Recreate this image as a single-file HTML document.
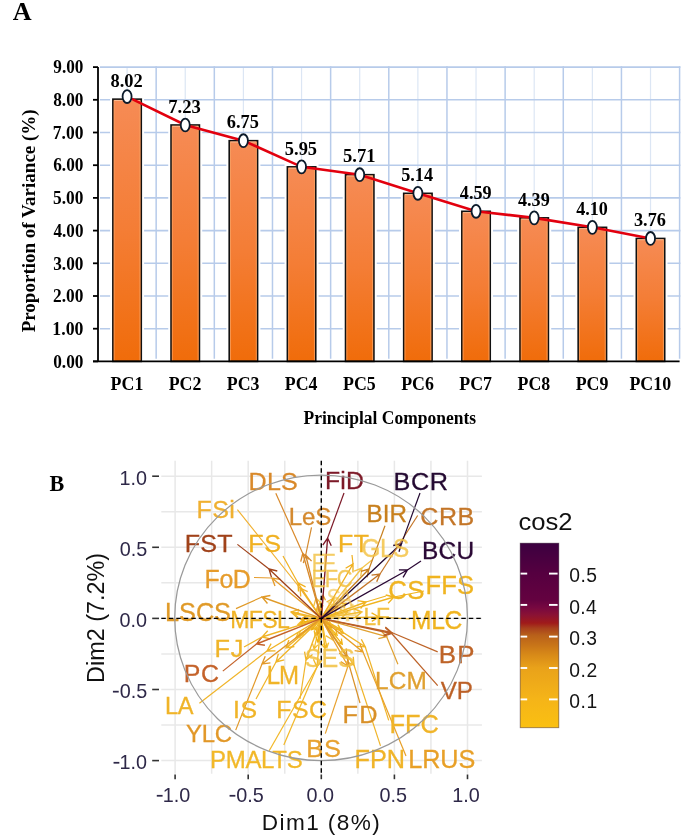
<!DOCTYPE html><html><head><meta charset="utf-8"><style>html,body{margin:0;padding:0;background:#fff;}svg{display:block;filter:blur(0.4px);}</style></head><body><svg width="685" height="840" viewBox="0 0 685 840">
<defs>
<linearGradient id="bar" x1="0" y1="0" x2="0" y2="1">
<stop offset="0" stop-color="#F68B55"/><stop offset="0.5" stop-color="#F47D35"/><stop offset="1" stop-color="#F06C0A"/>
</linearGradient>
<linearGradient id="leg" x1="0" y1="1" x2="0" y2="0">
<stop offset="0" stop-color="#FAC012"/>
<stop offset="0.156" stop-color="#F5B418"/>
<stop offset="0.324" stop-color="#E9A21A"/>
<stop offset="0.394" stop-color="#D88A18"/>
<stop offset="0.448" stop-color="#C87418"/>
<stop offset="0.502" stop-color="#B8601A"/>
<stop offset="0.54" stop-color="#A8401C"/>
<stop offset="0.567" stop-color="#A01A1A"/>
<stop offset="0.611" stop-color="#8A1234"/>
<stop offset="0.649" stop-color="#780840"/>
<stop offset="0.692" stop-color="#640240"/>
<stop offset="0.833" stop-color="#560040"/>
<stop offset="1" stop-color="#3C0040"/>
</linearGradient>
</defs>
<rect width="685" height="840" fill="#fff"/>
<line x1="127.08" y1="67.1" x2="127.08" y2="358.79999999999995" stroke="#DCE6F4" stroke-width="1.2"/>
<line x1="185.24" y1="67.1" x2="185.24" y2="358.79999999999995" stroke="#DCE6F4" stroke-width="1.2"/>
<line x1="243.40" y1="67.1" x2="243.40" y2="358.79999999999995" stroke="#DCE6F4" stroke-width="1.2"/>
<line x1="301.56" y1="67.1" x2="301.56" y2="358.79999999999995" stroke="#DCE6F4" stroke-width="1.2"/>
<line x1="359.72" y1="67.1" x2="359.72" y2="358.79999999999995" stroke="#DCE6F4" stroke-width="1.2"/>
<line x1="417.88" y1="67.1" x2="417.88" y2="358.79999999999995" stroke="#DCE6F4" stroke-width="1.2"/>
<line x1="476.04" y1="67.1" x2="476.04" y2="358.79999999999995" stroke="#DCE6F4" stroke-width="1.2"/>
<line x1="534.20" y1="67.1" x2="534.20" y2="358.79999999999995" stroke="#DCE6F4" stroke-width="1.2"/>
<line x1="592.36" y1="67.1" x2="592.36" y2="358.79999999999995" stroke="#DCE6F4" stroke-width="1.2"/>
<line x1="650.52" y1="67.1" x2="650.52" y2="358.79999999999995" stroke="#DCE6F4" stroke-width="1.2"/>
<line x1="156.16" y1="66.3" x2="156.16" y2="358.79999999999995" stroke="#B7CBEA" stroke-width="1.5"/>
<line x1="214.32" y1="66.3" x2="214.32" y2="358.79999999999995" stroke="#B7CBEA" stroke-width="1.5"/>
<line x1="272.48" y1="66.3" x2="272.48" y2="358.79999999999995" stroke="#B7CBEA" stroke-width="1.5"/>
<line x1="330.64" y1="66.3" x2="330.64" y2="358.79999999999995" stroke="#B7CBEA" stroke-width="1.5"/>
<line x1="388.80" y1="66.3" x2="388.80" y2="358.79999999999995" stroke="#B7CBEA" stroke-width="1.5"/>
<line x1="446.96" y1="66.3" x2="446.96" y2="358.79999999999995" stroke="#B7CBEA" stroke-width="1.5"/>
<line x1="505.12" y1="66.3" x2="505.12" y2="358.79999999999995" stroke="#B7CBEA" stroke-width="1.5"/>
<line x1="563.28" y1="66.3" x2="563.28" y2="358.79999999999995" stroke="#B7CBEA" stroke-width="1.5"/>
<line x1="621.44" y1="66.3" x2="621.44" y2="358.79999999999995" stroke="#B7CBEA" stroke-width="1.5"/>
<line x1="679.60" y1="66.3" x2="679.60" y2="358.79999999999995" stroke="#B7CBEA" stroke-width="1.5"/>
<line x1="100.0" y1="328.70" x2="680.4" y2="328.70" stroke="#B7CBEA" stroke-width="1.6"/>
<line x1="100.0" y1="296.00" x2="680.4" y2="296.00" stroke="#B7CBEA" stroke-width="1.6"/>
<line x1="100.0" y1="263.30" x2="680.4" y2="263.30" stroke="#B7CBEA" stroke-width="1.6"/>
<line x1="100.0" y1="230.60" x2="680.4" y2="230.60" stroke="#B7CBEA" stroke-width="1.6"/>
<line x1="100.0" y1="197.90" x2="680.4" y2="197.90" stroke="#B7CBEA" stroke-width="1.6"/>
<line x1="100.0" y1="165.20" x2="680.4" y2="165.20" stroke="#B7CBEA" stroke-width="1.6"/>
<line x1="100.0" y1="132.50" x2="680.4" y2="132.50" stroke="#B7CBEA" stroke-width="1.6"/>
<line x1="100.0" y1="99.80" x2="680.4" y2="99.80" stroke="#B7CBEA" stroke-width="1.6"/>
<line x1="100.0" y1="67.10" x2="680.4" y2="67.10" stroke="#B7CBEA" stroke-width="1.6"/>
<rect x="112.88" y="99.15" width="28.4" height="262.25" fill="#fff" stroke="#fff" stroke-width="5.6"/>
<rect x="171.04" y="124.98" width="28.4" height="236.42" fill="#fff" stroke="#fff" stroke-width="5.6"/>
<rect x="229.20" y="140.68" width="28.4" height="220.72" fill="#fff" stroke="#fff" stroke-width="5.6"/>
<rect x="287.36" y="166.84" width="28.4" height="194.56" fill="#fff" stroke="#fff" stroke-width="5.6"/>
<rect x="345.52" y="174.68" width="28.4" height="186.72" fill="#fff" stroke="#fff" stroke-width="5.6"/>
<rect x="403.68" y="193.32" width="28.4" height="168.08" fill="#fff" stroke="#fff" stroke-width="5.6"/>
<rect x="461.84" y="211.31" width="28.4" height="150.09" fill="#fff" stroke="#fff" stroke-width="5.6"/>
<rect x="520.00" y="217.85" width="28.4" height="143.55" fill="#fff" stroke="#fff" stroke-width="5.6"/>
<rect x="578.16" y="227.33" width="28.4" height="134.07" fill="#fff" stroke="#fff" stroke-width="5.6"/>
<rect x="636.32" y="238.45" width="28.4" height="122.95" fill="#fff" stroke="#fff" stroke-width="5.6"/>
<rect x="112.88" y="99.15" width="28.4" height="262.25" fill="url(#bar)" stroke="#111" stroke-width="1.6"/>
<line x1="114.08" y1="100.45" x2="140.08" y2="100.45" stroke="#F9C39C" stroke-width="0.9"/>
<line x1="114.18" y1="100.65" x2="114.18" y2="360.40" stroke="#F8A466" stroke-width="1" opacity="0.7"/>
<line x1="139.98" y1="100.65" x2="139.98" y2="360.40" stroke="#F8A466" stroke-width="1" opacity="0.8"/>
<rect x="171.04" y="124.98" width="28.4" height="236.42" fill="url(#bar)" stroke="#111" stroke-width="1.6"/>
<line x1="172.24" y1="126.28" x2="198.24" y2="126.28" stroke="#F9C39C" stroke-width="0.9"/>
<line x1="172.34" y1="126.48" x2="172.34" y2="360.40" stroke="#F8A466" stroke-width="1" opacity="0.7"/>
<line x1="198.14" y1="126.48" x2="198.14" y2="360.40" stroke="#F8A466" stroke-width="1" opacity="0.8"/>
<rect x="229.20" y="140.68" width="28.4" height="220.72" fill="url(#bar)" stroke="#111" stroke-width="1.6"/>
<line x1="230.40" y1="141.98" x2="256.40" y2="141.98" stroke="#F9C39C" stroke-width="0.9"/>
<line x1="230.50" y1="142.18" x2="230.50" y2="360.40" stroke="#F8A466" stroke-width="1" opacity="0.7"/>
<line x1="256.30" y1="142.18" x2="256.30" y2="360.40" stroke="#F8A466" stroke-width="1" opacity="0.8"/>
<rect x="287.36" y="166.84" width="28.4" height="194.56" fill="url(#bar)" stroke="#111" stroke-width="1.6"/>
<line x1="288.56" y1="168.14" x2="314.56" y2="168.14" stroke="#F9C39C" stroke-width="0.9"/>
<line x1="288.66" y1="168.34" x2="288.66" y2="360.40" stroke="#F8A466" stroke-width="1" opacity="0.7"/>
<line x1="314.46" y1="168.34" x2="314.46" y2="360.40" stroke="#F8A466" stroke-width="1" opacity="0.8"/>
<rect x="345.52" y="174.68" width="28.4" height="186.72" fill="url(#bar)" stroke="#111" stroke-width="1.6"/>
<line x1="346.72" y1="175.98" x2="372.72" y2="175.98" stroke="#F9C39C" stroke-width="0.9"/>
<line x1="346.82" y1="176.18" x2="346.82" y2="360.40" stroke="#F8A466" stroke-width="1" opacity="0.7"/>
<line x1="372.62" y1="176.18" x2="372.62" y2="360.40" stroke="#F8A466" stroke-width="1" opacity="0.8"/>
<rect x="403.68" y="193.32" width="28.4" height="168.08" fill="url(#bar)" stroke="#111" stroke-width="1.6"/>
<line x1="404.88" y1="194.62" x2="430.88" y2="194.62" stroke="#F9C39C" stroke-width="0.9"/>
<line x1="404.98" y1="194.82" x2="404.98" y2="360.40" stroke="#F8A466" stroke-width="1" opacity="0.7"/>
<line x1="430.78" y1="194.82" x2="430.78" y2="360.40" stroke="#F8A466" stroke-width="1" opacity="0.8"/>
<rect x="461.84" y="211.31" width="28.4" height="150.09" fill="url(#bar)" stroke="#111" stroke-width="1.6"/>
<line x1="463.04" y1="212.61" x2="489.04" y2="212.61" stroke="#F9C39C" stroke-width="0.9"/>
<line x1="463.14" y1="212.81" x2="463.14" y2="360.40" stroke="#F8A466" stroke-width="1" opacity="0.7"/>
<line x1="488.94" y1="212.81" x2="488.94" y2="360.40" stroke="#F8A466" stroke-width="1" opacity="0.8"/>
<rect x="520.00" y="217.85" width="28.4" height="143.55" fill="url(#bar)" stroke="#111" stroke-width="1.6"/>
<line x1="521.20" y1="219.15" x2="547.20" y2="219.15" stroke="#F9C39C" stroke-width="0.9"/>
<line x1="521.30" y1="219.35" x2="521.30" y2="360.40" stroke="#F8A466" stroke-width="1" opacity="0.7"/>
<line x1="547.10" y1="219.35" x2="547.10" y2="360.40" stroke="#F8A466" stroke-width="1" opacity="0.8"/>
<rect x="578.16" y="227.33" width="28.4" height="134.07" fill="url(#bar)" stroke="#111" stroke-width="1.6"/>
<line x1="579.36" y1="228.63" x2="605.36" y2="228.63" stroke="#F9C39C" stroke-width="0.9"/>
<line x1="579.46" y1="228.83" x2="579.46" y2="360.40" stroke="#F8A466" stroke-width="1" opacity="0.7"/>
<line x1="605.26" y1="228.83" x2="605.26" y2="360.40" stroke="#F8A466" stroke-width="1" opacity="0.8"/>
<rect x="636.32" y="238.45" width="28.4" height="122.95" fill="url(#bar)" stroke="#111" stroke-width="1.6"/>
<line x1="637.52" y1="239.75" x2="663.52" y2="239.75" stroke="#F9C39C" stroke-width="0.9"/>
<line x1="637.62" y1="239.95" x2="637.62" y2="360.40" stroke="#F8A466" stroke-width="1" opacity="0.7"/>
<line x1="663.42" y1="239.95" x2="663.42" y2="360.40" stroke="#F8A466" stroke-width="1" opacity="0.8"/>
<line x1="98.0" y1="67.1" x2="98.0" y2="361.4" stroke="#000" stroke-width="1.8"/>
<line x1="93" y1="361.4" x2="679.6" y2="361.4" stroke="#000" stroke-width="1.6"/>
<line x1="93" y1="361.40" x2="98.0" y2="361.40" stroke="#000" stroke-width="1.8"/>
<line x1="93" y1="328.70" x2="98.0" y2="328.70" stroke="#000" stroke-width="1.8"/>
<line x1="93" y1="296.00" x2="98.0" y2="296.00" stroke="#000" stroke-width="1.8"/>
<line x1="93" y1="263.30" x2="98.0" y2="263.30" stroke="#000" stroke-width="1.8"/>
<line x1="93" y1="230.60" x2="98.0" y2="230.60" stroke="#000" stroke-width="1.8"/>
<line x1="93" y1="197.90" x2="98.0" y2="197.90" stroke="#000" stroke-width="1.8"/>
<line x1="93" y1="165.20" x2="98.0" y2="165.20" stroke="#000" stroke-width="1.8"/>
<line x1="93" y1="132.50" x2="98.0" y2="132.50" stroke="#000" stroke-width="1.8"/>
<line x1="93" y1="99.80" x2="98.0" y2="99.80" stroke="#000" stroke-width="1.8"/>
<line x1="93" y1="67.10" x2="98.0" y2="67.10" stroke="#000" stroke-width="1.8"/>
<polyline points="127.08,96.55 185.24,124.98 243.40,140.68 301.56,166.84 359.72,174.68 417.88,193.32 476.04,211.31 534.20,217.85 592.36,227.33 650.52,238.45" fill="none" stroke="#E2000E" stroke-width="2.6"/>
<ellipse cx="127.08" cy="96.55" rx="4.5" ry="6.45" fill="#fff" stroke="#0B1A2A" stroke-width="1.8"/>
<ellipse cx="185.24" cy="124.98" rx="4.5" ry="6.45" fill="#fff" stroke="#0B1A2A" stroke-width="1.8"/>
<ellipse cx="243.40" cy="140.68" rx="4.5" ry="6.45" fill="#fff" stroke="#0B1A2A" stroke-width="1.8"/>
<ellipse cx="301.56" cy="166.84" rx="4.5" ry="6.45" fill="#fff" stroke="#0B1A2A" stroke-width="1.8"/>
<ellipse cx="359.72" cy="174.68" rx="4.5" ry="6.45" fill="#fff" stroke="#0B1A2A" stroke-width="1.8"/>
<ellipse cx="417.88" cy="193.32" rx="4.5" ry="6.45" fill="#fff" stroke="#0B1A2A" stroke-width="1.8"/>
<ellipse cx="476.04" cy="211.31" rx="4.5" ry="6.45" fill="#fff" stroke="#0B1A2A" stroke-width="1.8"/>
<ellipse cx="534.20" cy="217.85" rx="4.5" ry="6.45" fill="#fff" stroke="#0B1A2A" stroke-width="1.8"/>
<ellipse cx="592.36" cy="227.33" rx="4.5" ry="6.45" fill="#fff" stroke="#0B1A2A" stroke-width="1.8"/>
<ellipse cx="650.52" cy="238.45" rx="4.5" ry="6.45" fill="#fff" stroke="#0B1A2A" stroke-width="1.8"/>
<text x="110.48" y="86.95" font-family='"Liberation Serif", serif' font-weight="bold" font-size="17.8" textLength="32.26" lengthAdjust="spacingAndGlyphs" fill="#000" >8.02</text>
<text x="168.24" y="112.78" font-family='"Liberation Serif", serif' font-weight="bold" font-size="17.8" textLength="32.54" lengthAdjust="spacingAndGlyphs" fill="#000" >7.23</text>
<text x="226.80" y="128.48" font-family='"Liberation Serif", serif' font-weight="bold" font-size="17.8" textLength="32.13" lengthAdjust="spacingAndGlyphs" fill="#000" >6.75</text>
<text x="284.83" y="154.64" font-family='"Liberation Serif", serif' font-weight="bold" font-size="17.8" textLength="32.26" lengthAdjust="spacingAndGlyphs" fill="#000" >5.95</text>
<text x="342.98" y="162.48" font-family='"Liberation Serif", serif' font-weight="bold" font-size="17.8" textLength="32.54" lengthAdjust="spacingAndGlyphs" fill="#000" >5.71</text>
<text x="401.16" y="181.12" font-family='"Liberation Serif", serif' font-weight="bold" font-size="17.8" textLength="31.99" lengthAdjust="spacingAndGlyphs" fill="#000" >5.14</text>
<text x="459.83" y="199.11" font-family='"Liberation Serif", serif' font-weight="bold" font-size="17.8" textLength="31.73" lengthAdjust="spacingAndGlyphs" fill="#000" >4.59</text>
<text x="517.99" y="205.65" font-family='"Liberation Serif", serif' font-weight="bold" font-size="17.8" textLength="31.73" lengthAdjust="spacingAndGlyphs" fill="#000" >4.39</text>
<text x="576.15" y="215.13" font-family='"Liberation Serif", serif' font-weight="bold" font-size="17.8" textLength="31.73" lengthAdjust="spacingAndGlyphs" fill="#000" >4.10</text>
<text x="633.93" y="226.25" font-family='"Liberation Serif", serif' font-weight="bold" font-size="17.8" textLength="31.99" lengthAdjust="spacingAndGlyphs" fill="#000" >3.76</text>
<text x="53.21" y="367.60" font-family='"Liberation Serif", serif' font-weight="bold" font-size="18.3" textLength="30.22" lengthAdjust="spacingAndGlyphs" fill="#000" >0.00</text>
<text x="52.34" y="334.90" font-family='"Liberation Serif", serif' font-weight="bold" font-size="18.3" textLength="31.11" lengthAdjust="spacingAndGlyphs" fill="#000" >1.00</text>
<text x="53.09" y="302.20" font-family='"Liberation Serif", serif' font-weight="bold" font-size="18.3" textLength="30.35" lengthAdjust="spacingAndGlyphs" fill="#000" >2.00</text>
<text x="53.21" y="269.50" font-family='"Liberation Serif", serif' font-weight="bold" font-size="18.3" textLength="30.22" lengthAdjust="spacingAndGlyphs" fill="#000" >3.00</text>
<text x="53.57" y="236.80" font-family='"Liberation Serif", serif' font-weight="bold" font-size="18.3" textLength="29.86" lengthAdjust="spacingAndGlyphs" fill="#000" >4.00</text>
<text x="53.09" y="204.10" font-family='"Liberation Serif", serif' font-weight="bold" font-size="18.3" textLength="30.35" lengthAdjust="spacingAndGlyphs" fill="#000" >5.00</text>
<text x="53.21" y="171.40" font-family='"Liberation Serif", serif' font-weight="bold" font-size="18.3" textLength="30.22" lengthAdjust="spacingAndGlyphs" fill="#000" >6.00</text>
<text x="52.84" y="138.70" font-family='"Liberation Serif", serif' font-weight="bold" font-size="18.3" textLength="30.60" lengthAdjust="spacingAndGlyphs" fill="#000" >7.00</text>
<text x="53.21" y="106.00" font-family='"Liberation Serif", serif' font-weight="bold" font-size="18.3" textLength="30.22" lengthAdjust="spacingAndGlyphs" fill="#000" >8.00</text>
<text x="53.33" y="73.30" font-family='"Liberation Serif", serif' font-weight="bold" font-size="18.3" textLength="30.10" lengthAdjust="spacingAndGlyphs" fill="#000" >9.00</text>
<text x="110.60" y="389.70" font-family='"Liberation Serif", serif' font-weight="bold" font-size="18.5" textLength="32.72" lengthAdjust="spacingAndGlyphs" fill="#000" >PC1</text>
<text x="168.64" y="389.70" font-family='"Liberation Serif", serif' font-weight="bold" font-size="18.5" textLength="32.72" lengthAdjust="spacingAndGlyphs" fill="#000" >PC2</text>
<text x="226.74" y="389.70" font-family='"Liberation Serif", serif' font-weight="bold" font-size="18.5" textLength="32.72" lengthAdjust="spacingAndGlyphs" fill="#000" >PC3</text>
<text x="284.78" y="389.70" font-family='"Liberation Serif", serif' font-weight="bold" font-size="18.5" textLength="32.72" lengthAdjust="spacingAndGlyphs" fill="#000" >PC4</text>
<text x="343.06" y="389.70" font-family='"Liberation Serif", serif' font-weight="bold" font-size="18.5" textLength="32.72" lengthAdjust="spacingAndGlyphs" fill="#000" >PC5</text>
<text x="401.16" y="389.70" font-family='"Liberation Serif", serif' font-weight="bold" font-size="18.5" textLength="32.72" lengthAdjust="spacingAndGlyphs" fill="#000" >PC6</text>
<text x="459.32" y="389.70" font-family='"Liberation Serif", serif' font-weight="bold" font-size="18.5" textLength="32.72" lengthAdjust="spacingAndGlyphs" fill="#000" >PC7</text>
<text x="517.54" y="389.70" font-family='"Liberation Serif", serif' font-weight="bold" font-size="18.5" textLength="32.72" lengthAdjust="spacingAndGlyphs" fill="#000" >PC8</text>
<text x="575.70" y="389.70" font-family='"Liberation Serif", serif' font-weight="bold" font-size="18.5" textLength="32.72" lengthAdjust="spacingAndGlyphs" fill="#000" >PC9</text>
<text x="629.45" y="389.70" font-family='"Liberation Serif", serif' font-weight="bold" font-size="18.5" textLength="41.65" lengthAdjust="spacingAndGlyphs" fill="#000" >PC10</text>
<text x="303.56" y="423.60" font-family='"Liberation Serif", serif' font-weight="bold" font-size="18.2" textLength="172.50" lengthAdjust="spacingAndGlyphs" fill="#000" >Principlal Components</text>
<text transform="translate(35.20,332.10) rotate(-90)" x="-0.26" y="0" font-family='"Liberation Serif", serif' font-weight="bold" font-size="18.5" textLength="223.04" lengthAdjust="spacingAndGlyphs" fill="#000">Proportion of Variance (%)</text>
<text x="12.84" y="19.80" font-family='"Liberation Serif", serif' font-weight="bold" font-size="25" textLength="18.85" lengthAdjust="spacingAndGlyphs" fill="#000" >A</text>
<line x1="175.10" y1="460.8" x2="175.10" y2="773.8" stroke="#E8E8E8" stroke-width="1.5"/>
<line x1="161.3" y1="760.60" x2="481.9" y2="760.60" stroke="#E8E8E8" stroke-width="1.5"/>
<line x1="211.65" y1="460.8" x2="211.65" y2="773.8" stroke="#E8E8E8" stroke-width="1.5"/>
<line x1="161.3" y1="725.05" x2="481.9" y2="725.05" stroke="#E8E8E8" stroke-width="1.5"/>
<line x1="248.20" y1="460.8" x2="248.20" y2="773.8" stroke="#E8E8E8" stroke-width="1.5"/>
<line x1="161.3" y1="689.50" x2="481.9" y2="689.50" stroke="#E8E8E8" stroke-width="1.5"/>
<line x1="284.75" y1="460.8" x2="284.75" y2="773.8" stroke="#E8E8E8" stroke-width="1.5"/>
<line x1="161.3" y1="653.95" x2="481.9" y2="653.95" stroke="#E8E8E8" stroke-width="1.5"/>
<line x1="321.30" y1="460.8" x2="321.30" y2="773.8" stroke="#E8E8E8" stroke-width="1.5"/>
<line x1="161.3" y1="618.40" x2="481.9" y2="618.40" stroke="#E8E8E8" stroke-width="1.5"/>
<line x1="357.85" y1="460.8" x2="357.85" y2="773.8" stroke="#E8E8E8" stroke-width="1.5"/>
<line x1="161.3" y1="582.85" x2="481.9" y2="582.85" stroke="#E8E8E8" stroke-width="1.5"/>
<line x1="394.40" y1="460.8" x2="394.40" y2="773.8" stroke="#E8E8E8" stroke-width="1.5"/>
<line x1="161.3" y1="547.30" x2="481.9" y2="547.30" stroke="#E8E8E8" stroke-width="1.5"/>
<line x1="430.95" y1="460.8" x2="430.95" y2="773.8" stroke="#E8E8E8" stroke-width="1.5"/>
<line x1="161.3" y1="511.75" x2="481.9" y2="511.75" stroke="#E8E8E8" stroke-width="1.5"/>
<line x1="467.50" y1="460.8" x2="467.50" y2="773.8" stroke="#E8E8E8" stroke-width="1.5"/>
<line x1="161.3" y1="476.20" x2="481.9" y2="476.20" stroke="#E8E8E8" stroke-width="1.5"/>
<text x="49.55" y="491.10" font-family='"Liberation Serif", serif' font-weight="bold" font-size="23.5" textLength="14.79" lengthAdjust="spacingAndGlyphs" fill="#000" >B</text>
<path d="M321.3,618.4L323.11,595.21M320.00,599.75L323.11,595.21L325.48,600.18" fill="none" stroke="#E8A420" stroke-width="1.3"/>
<path d="M321.3,618.4L340.67,629.36M337.88,624.62L340.67,629.36L335.17,629.41" fill="none" stroke="#F2B820" stroke-width="1.3"/>
<path d="M321.3,618.4L296.09,637.51M301.55,636.83L296.09,637.51L298.23,632.44" fill="none" stroke="#F5BE30" stroke-width="1.3"/>
<path d="M321.3,618.4L320.29,601.79M317.84,606.71L320.29,601.79L323.33,606.38" fill="none" stroke="#F5BE30" stroke-width="1.3"/>
<path d="M321.3,618.4L298.00,624.35M303.30,625.84L298.00,624.35L301.94,620.51" fill="none" stroke="#F5BE30" stroke-width="1.3"/>
<path d="M321.3,618.4L311.47,629.79M316.66,627.98L311.47,629.79L312.50,624.39" fill="none" stroke="#F0B010" stroke-width="1.3"/>
<path d="M321.3,618.4L337.18,635.21M335.91,629.86L337.18,635.21L331.91,633.64" fill="none" stroke="#F2B820" stroke-width="1.3"/>
<path d="M321.3,618.4L314.94,629.85M319.66,627.02L314.94,629.85L314.85,624.35" fill="none" stroke="#F2B820" stroke-width="1.3"/>
<path d="M321.3,618.4L317.29,606.73M316.23,612.13L317.29,606.73L321.44,610.34" fill="none" stroke="#E8A420" stroke-width="1.3"/>
<path d="M321.3,618.4L293.89,613.80M298.14,617.30L293.89,613.80L299.05,611.88" fill="none" stroke="#F5BE30" stroke-width="1.3"/>
<path d="M321.3,618.4L314.09,648.90M317.86,644.90L314.09,648.90L312.51,643.64" fill="none" stroke="#F5BE30" stroke-width="1.3"/>
<path d="M321.3,618.4L317.92,642.13M321.31,637.80L317.92,642.13L315.87,637.02" fill="none" stroke="#F0B010" stroke-width="1.3"/>
<path d="M321.3,618.4L331.54,627.86M329.91,622.61L331.54,627.86L326.18,626.65" fill="none" stroke="#F0B010" stroke-width="1.3"/>
<path d="M321.3,618.4L303.63,617.85M308.31,620.75L303.63,617.85L308.48,615.25" fill="none" stroke="#F5BE30" stroke-width="1.3"/>
<path d="M321.3,618.4L326.88,647.80M328.69,642.60L326.88,647.80L323.29,643.63" fill="none" stroke="#F5BE30" stroke-width="1.3"/>
<path d="M321.3,618.4L300.83,619.30M305.71,621.84L300.83,619.30L305.47,616.35" fill="none" stroke="#E8A420" stroke-width="1.3"/>
<path d="M321.3,618.4L300.81,622.72M306.04,624.43L300.81,622.72L304.91,619.05" fill="none" stroke="#F0B010" stroke-width="1.3"/>
<path d="M321.3,618.4L343.56,633.23M341.12,628.30L343.56,633.23L338.07,632.88" fill="none" stroke="#F2B820" stroke-width="1.3"/>
<path d="M321.3,618.4L342.25,644.13M341.38,638.70L342.25,644.13L337.11,642.17" fill="none" stroke="#F0B010" stroke-width="1.3"/>
<path d="M321.3,618.4L315.21,636.04M319.37,632.44L315.21,636.04L314.17,630.64" fill="none" stroke="#F2B820" stroke-width="1.3"/>
<path d="M321.3,618.4L317.55,634.13M321.33,630.13L317.55,634.13L315.98,628.86" fill="none" stroke="#E8A420" stroke-width="1.3"/>
<path d="M321.3,618.4L318.38,605.72M316.77,610.98L318.38,605.72L322.13,609.74" fill="none" stroke="#F5BE30" stroke-width="1.3"/>
<path d="M321.3,618.4L346.45,603.24M340.95,603.34L346.45,603.24L343.79,608.05" fill="none" stroke="#F5BE30" stroke-width="1.3"/>
<path d="M321.3,618.4L331.23,625.67M329.01,620.64L331.23,625.67L325.76,625.08" fill="none" stroke="#F5BE30" stroke-width="1.3"/>
<path d="M321.3,618.4L324.98,648.45M327.13,643.39L324.98,648.45L321.67,644.06" fill="none" stroke="#F2B820" stroke-width="1.3"/>
<path d="M321.3,618.4L298.58,635.49M304.04,634.83L298.58,635.49L300.73,630.43" fill="none" stroke="#F5BE30" stroke-width="1.3"/>
<path d="M321.3,618.4L362.00,568.00M354.07,571.06L362.00,568.00L360.68,576.40" fill="none" stroke="#F4C448" stroke-width="1.35"/>
<path d="M321.3,618.4L316.00,598.00M313.74,606.19L316.00,598.00L321.96,604.06" fill="none" stroke="#F2C040" stroke-width="1.35"/>
<path d="M321.3,618.4L334.00,598.00M326.50,602.00L334.00,598.00L333.72,606.50" fill="none" stroke="#F2C040" stroke-width="1.35"/>
<path d="M321.3,618.4L338.00,606.00M329.56,606.98L338.00,606.00L334.62,613.80" fill="none" stroke="#F2C040" stroke-width="1.35"/>
<path d="M321.3,618.4L348.00,612.00M339.85,609.58L348.00,612.00L341.83,617.85" fill="none" stroke="#F2C040" stroke-width="1.35"/>
<path d="M321.3,618.4L333.00,640.00M333.23,631.50L333.00,640.00L325.76,635.55" fill="none" stroke="#F2C040" stroke-width="1.35"/>
<path d="M321.3,618.4L362.00,612.00M354.07,608.95L362.00,612.00L355.39,617.34" fill="none" stroke="#F2BC30" stroke-width="1.35"/>
<path d="M321.3,618.4L317.00,667.00M321.88,660.04L317.00,667.00L313.42,659.29" fill="none" stroke="#F2B828" stroke-width="1.35"/>
<path d="M321.3,618.4L291.00,612.00M297.32,617.68L291.00,612.00L299.08,609.36" fill="none" stroke="#F0B428" stroke-width="1.35"/>
<path d="M321.3,618.4L262.00,637.00M270.30,638.85L262.00,637.00L267.75,630.74" fill="none" stroke="#F0B428" stroke-width="1.35"/>
<path d="M321.3,618.4L286.00,648.00M294.37,646.53L286.00,648.00L288.91,640.01" fill="none" stroke="#F0B428" stroke-width="1.35"/>
<path d="M321.3,618.4L267.00,651.00M275.50,650.85L267.00,651.00L271.12,643.57" fill="none" stroke="#F0B428" stroke-width="1.35"/>
<path d="M321.3,618.4L276.00,662.00M284.25,659.96L276.00,662.00L278.36,653.83" fill="none" stroke="#F0B428" stroke-width="1.35"/>
<path d="M321.3,618.4L306.00,660.00M312.53,654.56L306.00,660.00L304.55,651.62" fill="none" stroke="#F0B428" stroke-width="1.35"/>
<path d="M321.3,618.4L365.20,646.80M361.33,639.23L365.20,646.80L356.71,646.37" fill="none" stroke="#F0B428" stroke-width="1.35"/>
<path d="M321.3,618.4L354.00,665.20M353.27,656.73L354.00,665.20L346.30,661.60" fill="none" stroke="#F0B428" stroke-width="1.35"/>
<path d="M321.3,618.4L366.00,602.00M357.63,600.55L366.00,602.00L360.55,608.53" fill="none" stroke="#F0B420" stroke-width="1.35"/>
<path d="M321.3,618.4L394.00,597.00M385.74,595.00L394.00,597.00L388.14,603.16" fill="none" stroke="#F0B420" stroke-width="1.35"/>
<path d="M321.3,618.4L379.00,617.00M371.54,612.93L379.00,617.00L371.74,621.43" fill="none" stroke="#F0B420" stroke-width="1.35"/>
<path d="M321.3,618.4L300.00,588.00M300.74,596.47L300.00,588.00L307.70,591.59" fill="none" stroke="#F0B030" stroke-width="1.35"/>
<path d="M321.3,618.4L298.00,583.00M298.50,591.49L298.00,583.00L305.60,586.81" fill="none" stroke="#F0B020" stroke-width="1.35"/>
<path d="M321.3,618.4L353.00,564.00M345.62,568.22L353.00,564.00L352.97,572.50" fill="none" stroke="#F0B020" stroke-width="1.35"/>
<path d="M321.3,618.4L348.00,666.00M348.11,657.50L348.00,666.00L340.69,661.66" fill="none" stroke="#E8A230" stroke-width="1.35"/>
<path d="M321.3,618.4L363.00,652.00M359.93,644.07L363.00,652.00L354.60,650.69" fill="none" stroke="#E8A028" stroke-width="1.35"/>
<path d="M321.3,618.4L386.60,636.60M380.65,630.53L386.60,636.60L378.37,638.72" fill="none" stroke="#E0A030" stroke-width="1.35"/>
<path d="M321.3,618.4L272.00,578.00M275.00,585.95L272.00,578.00L280.39,579.38" fill="none" stroke="#E69C2C" stroke-width="1.35"/>
<path d="M321.3,618.4L262.00,597.00M267.48,603.50L262.00,597.00L270.37,595.50" fill="none" stroke="#E09A28" stroke-width="1.35"/>
<path d="M321.3,618.4L262.00,664.00M270.43,662.88L262.00,664.00L265.24,656.14" fill="none" stroke="#E29828" stroke-width="1.35"/>
<path d="M321.3,618.4L346.80,657.00M346.29,648.52L346.80,657.00L339.20,653.20" fill="none" stroke="#D89028" stroke-width="1.35"/>
<path d="M321.3,618.4L302.80,553.40M300.73,561.64L302.80,553.40L308.90,559.32" fill="none" stroke="#D9892A" stroke-width="1.35"/>
<path d="M321.3,618.4L305.70,555.00M303.33,563.16L305.70,555.00L311.59,561.13" fill="none" stroke="#D4892E" stroke-width="1.35"/>
<path d="M321.3,618.4L369.00,569.00M360.83,571.34L369.00,569.00L366.94,577.25" fill="none" stroke="#C8801E" stroke-width="1.35"/>
<path d="M321.3,618.4L380.00,574.00M371.57,575.05L380.00,574.00L376.69,581.83" fill="none" stroke="#C47628" stroke-width="1.35"/>
<path d="M321.3,618.4L256.50,644.00M264.91,645.25L256.50,644.00L261.78,637.34" fill="none" stroke="#C4622A" stroke-width="1.35"/>
<path d="M321.3,618.4L391.70,632.50M385.32,626.89L391.70,632.50L383.65,635.22" fill="none" stroke="#BE6428" stroke-width="1.35"/>
<path d="M321.3,618.4L391.70,633.50M385.39,627.80L391.70,633.50L383.61,636.11" fill="none" stroke="#BC6026" stroke-width="1.35"/>
<path d="M321.3,618.4L269.00,569.00M271.43,577.14L269.00,569.00L277.27,570.97" fill="none" stroke="#A0421A" stroke-width="1.35"/>
<path d="M321.3,618.4L327.60,538.00M322.79,545.01L327.60,538.00L331.26,545.67" fill="none" stroke="#7D1A28" stroke-width="1.35"/>
<path d="M321.3,618.4L407.40,570.00M398.90,569.90L407.40,570.00L403.07,577.31" fill="none" stroke="#2A0835" stroke-width="1.35"/>
<path d="M321.3,618.4L401.50,543.60M393.22,545.51L401.50,543.60L399.02,551.73" fill="none" stroke="#240A32" stroke-width="1.35"/>
<line x1="362.00" y1="568.00" x2="372.00" y2="560.00" stroke="#F4C448" stroke-width="1.2"/>
<line x1="317.00" y1="667.00" x2="269.20" y2="750.80" stroke="#F2B828" stroke-width="1.2"/>
<line x1="262.00" y1="637.00" x2="244.00" y2="647.00" stroke="#F0B428" stroke-width="1.2"/>
<line x1="267.00" y1="651.00" x2="199.40" y2="703.20" stroke="#F0B428" stroke-width="1.2"/>
<line x1="276.00" y1="662.00" x2="256.00" y2="699.00" stroke="#F0B428" stroke-width="1.2"/>
<line x1="306.00" y1="660.00" x2="300.00" y2="699.00" stroke="#F0B428" stroke-width="1.2"/>
<line x1="365.20" y1="646.80" x2="388.70" y2="720.40" stroke="#F0B428" stroke-width="1.2"/>
<line x1="354.00" y1="665.20" x2="380.50" y2="745.90" stroke="#F0B428" stroke-width="1.2"/>
<line x1="366.00" y1="602.00" x2="386.00" y2="596.00" stroke="#F0B420" stroke-width="1.2"/>
<line x1="394.00" y1="597.00" x2="424.00" y2="591.00" stroke="#F0B420" stroke-width="1.2"/>
<line x1="379.00" y1="617.00" x2="410.00" y2="619.00" stroke="#F0B420" stroke-width="1.2"/>
<line x1="300.00" y1="588.00" x2="237.40" y2="509.60" stroke="#F0B030" stroke-width="1.2"/>
<line x1="298.00" y1="583.00" x2="283.00" y2="556.00" stroke="#F0B020" stroke-width="1.2"/>
<line x1="353.00" y1="564.00" x2="352.00" y2="555.00" stroke="#F0B020" stroke-width="1.2"/>
<line x1="348.00" y1="666.00" x2="325.30" y2="733.60" stroke="#E8A230" stroke-width="1.2"/>
<line x1="363.00" y1="652.00" x2="406.00" y2="756.10" stroke="#E8A028" stroke-width="1.2"/>
<line x1="386.60" y1="636.60" x2="397.90" y2="664.20" stroke="#E0A030" stroke-width="1.2"/>
<line x1="272.00" y1="578.00" x2="254.00" y2="577.50" stroke="#E69C2C" stroke-width="1.2"/>
<line x1="262.00" y1="597.00" x2="236.00" y2="608.60" stroke="#E09A28" stroke-width="1.2"/>
<line x1="262.00" y1="664.00" x2="235.70" y2="730.10" stroke="#E29828" stroke-width="1.2"/>
<line x1="346.80" y1="657.00" x2="360.00" y2="703.00" stroke="#D89028" stroke-width="1.2"/>
<line x1="302.80" y1="553.40" x2="275.80" y2="493.30" stroke="#D9892A" stroke-width="1.2"/>
<line x1="305.70" y1="555.00" x2="311.50" y2="527.40" stroke="#D4892E" stroke-width="1.2"/>
<line x1="369.00" y1="569.00" x2="385.00" y2="525.70" stroke="#C8801E" stroke-width="1.2"/>
<line x1="380.00" y1="574.00" x2="417.70" y2="515.50" stroke="#C47628" stroke-width="1.2"/>
<line x1="256.50" y1="644.00" x2="222.80" y2="671.10" stroke="#C4622A" stroke-width="1.2"/>
<line x1="391.70" y1="632.50" x2="437.70" y2="651.90" stroke="#BE6428" stroke-width="1.2"/>
<line x1="391.70" y1="633.50" x2="437.70" y2="685.60" stroke="#BC6026" stroke-width="1.2"/>
<line x1="269.00" y1="569.00" x2="237.40" y2="544.40" stroke="#A0421A" stroke-width="1.2"/>
<line x1="327.60" y1="538.00" x2="344.00" y2="493.00" stroke="#7D1A28" stroke-width="1.2"/>
<line x1="407.40" y1="570.00" x2="421.00" y2="561.00" stroke="#2A0835" stroke-width="1.2"/>
<line x1="401.50" y1="543.60" x2="420.00" y2="493.00" stroke="#240A32" stroke-width="1.2"/>
<line x1="317" y1="667" x2="283.8" y2="745" stroke="#F2B828" stroke-width="1.2"/>
<text transform="translate(250.60,489.90) scale(1.0147,1)" x="-2.00" y="0" font-family='"Liberation Sans", sans-serif' font-weight="normal" font-size="24.71" letter-spacing="0.217" fill="#D9892A" stroke="#D9892A" stroke-width="0.3" opacity="1.0">DLS</text>
<text transform="translate(327.00,489.20) scale(1.0204,1)" x="-2.00" y="0" font-family='"Liberation Sans", sans-serif' font-weight="normal" font-size="24.29" letter-spacing="0.230" fill="#7D1A28" stroke="#7D1A28" stroke-width="0.3" opacity="1.0">FiD</text>
<text transform="translate(395.50,489.60) scale(1.0400,1)" x="-2.00" y="0" font-family='"Liberation Sans", sans-serif' font-weight="normal" font-size="24.29" letter-spacing="0.615" fill="#240A32" stroke="#240A32" stroke-width="0.3" opacity="1.0">BCR</text>
<text transform="translate(198.60,518.40) scale(1.0321,1)" x="-2.00" y="0" font-family='"Liberation Sans", sans-serif' font-weight="normal" font-size="24.29" letter-spacing="0.339" fill="#F0B030" stroke="#F0B030" stroke-width="0.3" opacity="1.0">FSi</text>
<text transform="translate(290.80,525.00) scale(0.9907,1)" x="-2.00" y="0" font-family='"Liberation Sans", sans-serif' font-weight="normal" font-size="24.29" letter-spacing="-0.126" fill="#D4892E" stroke="#D4892E" stroke-width="0.3" opacity="1.0">LeS</text>
<text transform="translate(368.60,522.00) scale(1.0049,1)" x="-2.00" y="0" font-family='"Liberation Sans", sans-serif' font-weight="normal" font-size="24.14" letter-spacing="0.060" fill="#C8801E" stroke="#C8801E" stroke-width="0.3" opacity="1.0">BIR</text>
<text transform="translate(421.60,525.20) scale(1.0305,1)" x="-1.25" y="0" font-family='"Liberation Sans", sans-serif' font-weight="normal" font-size="24.29" letter-spacing="0.480" fill="#C47628" stroke="#C47628" stroke-width="0.3" opacity="1.0">CRB</text>
<text transform="translate(186.70,552.30) scale(1.0183,1)" x="-2.00" y="0" font-family='"Liberation Sans", sans-serif' font-weight="normal" font-size="24.71" letter-spacing="0.265" fill="#A0421A" stroke="#A0421A" stroke-width="0.3" opacity="1.0">FST</text>
<text transform="translate(250.30,552.00) scale(1.0343,1)" x="-2.00" y="0" font-family='"Liberation Sans", sans-serif' font-weight="normal" font-size="24.29" letter-spacing="0.619" fill="#F0B020" stroke="#F0B020" stroke-width="0.3" opacity="1.0">FS</text>
<text transform="translate(340.10,552.00) scale(1.0282,1)" x="-2.00" y="0" font-family='"Liberation Sans", sans-serif' font-weight="normal" font-size="24.29" letter-spacing="0.496" fill="#F0B020" stroke="#F0B020" stroke-width="0.3" opacity="1.0">FT</text>
<text transform="translate(362.70,557.00) scale(0.9690,1)" x="-1.25" y="0" font-family='"Liberation Sans", sans-serif' font-weight="normal" font-size="25.14" letter-spacing="-0.511" fill="#F4C448" stroke="#F4C448" stroke-width="0.3" opacity="0.85">GLS</text>
<text transform="translate(424.00,558.50) scale(1.0150,1)" x="-2.00" y="0" font-family='"Liberation Sans", sans-serif' font-weight="normal" font-size="24.14" letter-spacing="0.232" fill="#2A0835" stroke="#2A0835" stroke-width="0.3" opacity="1.0">BCU</text>
<text transform="translate(206.60,588.30) scale(0.9747,1)" x="-2.12" y="0" font-family='"Liberation Sans", sans-serif' font-weight="normal" font-size="25.57" letter-spacing="-0.390" fill="#E69C2C" stroke="#E69C2C" stroke-width="0.3" opacity="1.0">FoD</text>
<text transform="translate(313.40,571.00) scale(0.8777,1)" x="-2.00" y="0" font-family='"Liberation Sans", sans-serif' font-weight="normal" font-size="24.14" letter-spacing="-2.461" fill="#F2C040" stroke="#F2C040" stroke-width="0.3" opacity="0.8">FF</text>
<text transform="translate(313.40,586.60) scale(0.9080,1)" x="-2.00" y="0" font-family='"Liberation Sans", sans-serif' font-weight="normal" font-size="24.0" letter-spacing="-1.520" fill="#F2C040" stroke="#F2C040" stroke-width="0.3" opacity="0.85">EFC</text>
<text transform="translate(389.40,598.50) scale(1.0211,1)" x="-1.25" y="0" font-family='"Liberation Sans", sans-serif' font-weight="normal" font-size="25.29" letter-spacing="0.451" fill="#F0B420" stroke="#F0B420" stroke-width="0.3" opacity="1.0">CS</text>
<text transform="translate(427.60,594.30) scale(1.0104,1)" x="-2.00" y="0" font-family='"Liberation Sans", sans-serif' font-weight="normal" font-size="25.29" letter-spacing="0.153" fill="#F0B420" stroke="#F0B420" stroke-width="0.3" opacity="1.0">FFS</text>
<text transform="translate(167.00,621.00) scale(0.9993,1)" x="-2.00" y="0" font-family='"Liberation Sans", sans-serif' font-weight="normal" font-size="25.29" letter-spacing="-0.010" fill="#E09A28" stroke="#E09A28" stroke-width="0.3" opacity="1.0">LSCS</text>
<text transform="translate(232.10,627.80) scale(0.9516,1)" x="-2.00" y="0" font-family='"Liberation Sans", sans-serif' font-weight="normal" font-size="24.29" letter-spacing="-0.701" fill="#F0B428" stroke="#F0B428" stroke-width="0.3" opacity="1.0">MFSL</text>
<text transform="translate(327.40,606.00) scale(0.8762,1)" x="-1.12" y="0" font-family='"Liberation Sans", sans-serif' font-weight="normal" font-size="24.57" letter-spacing="-2.979" fill="#F2C040" stroke="#F2C040" stroke-width="0.3" opacity="0.6">SA</text>
<text transform="translate(336.40,621.00) scale(0.8312,1)" x="-0.00" y="0" font-family='"Liberation Sans", sans-serif' font-weight="normal" font-size="23.14" letter-spacing="-4.163" fill="#F2C040" stroke="#F2C040" stroke-width="0.3" opacity="0.55">AA</text>
<text transform="translate(365.40,624.70) scale(0.9814,1)" x="-1.88" y="0" font-family='"Liberation Sans", sans-serif' font-weight="normal" font-size="23.29" letter-spacing="-0.306" fill="#F2BC30" stroke="#F2BC30" stroke-width="0.3" opacity="0.9">LF</text>
<text transform="translate(413.00,629.30) scale(0.9753,1)" x="-2.00" y="0" font-family='"Liberation Sans", sans-serif' font-weight="normal" font-size="25.29" letter-spacing="-0.426" fill="#F0B420" stroke="#F0B420" stroke-width="0.3" opacity="1.0">MLC</text>
<text transform="translate(216.60,656.50) scale(1.0426,1)" x="-2.00" y="0" font-family='"Liberation Sans", sans-serif' font-weight="normal" font-size="24.29" letter-spacing="0.633" fill="#F0B428" stroke="#F0B428" stroke-width="0.3" opacity="1.0">FJ</text>
<text transform="translate(440.80,662.80) scale(1.0662,1)" x="-2.00" y="0" font-family='"Liberation Sans", sans-serif' font-weight="normal" font-size="24.29" letter-spacing="1.201" fill="#BE6428" stroke="#BE6428" stroke-width="0.3" opacity="1.0">BP</text>
<text transform="translate(305.90,666.70) scale(0.9919,1)" x="-1.12" y="0" font-family='"Liberation Sans", sans-serif' font-weight="normal" font-size="25.29" letter-spacing="-0.131" fill="#F2C040" stroke="#F2C040" stroke-width="0.3" opacity="0.85">SES</text>
<text transform="translate(185.90,682.00) scale(1.0328,1)" x="-2.00" y="0" font-family='"Liberation Sans", sans-serif' font-weight="normal" font-size="24.14" letter-spacing="0.649" fill="#C4622A" stroke="#C4622A" stroke-width="0.3" opacity="1.0">PC</text>
<text transform="translate(268.60,684.00) scale(0.9516,1)" x="-2.00" y="0" font-family='"Liberation Sans", sans-serif' font-weight="normal" font-size="25.29" letter-spacing="-1.051" fill="#F0B428" stroke="#F0B428" stroke-width="0.3" opacity="1.0">LM</text>
<text transform="translate(377.10,688.60) scale(1.0044,1)" x="-2.00" y="0" font-family='"Liberation Sans", sans-serif' font-weight="normal" font-size="24.29" letter-spacing="0.070" fill="#E0A030" stroke="#E0A030" stroke-width="0.3" opacity="1.0">LCM</text>
<text transform="translate(440.80,698.60) scale(0.9966,1)" x="-0.12" y="0" font-family='"Liberation Sans", sans-serif' font-weight="normal" font-size="24.29" letter-spacing="-0.070" fill="#BC6026" stroke="#BC6026" stroke-width="0.3" opacity="1.0">VP</text>
<text transform="translate(167.00,714.20) scale(0.9712,1)" x="-2.00" y="0" font-family='"Liberation Sans", sans-serif' font-weight="normal" font-size="24.29" letter-spacing="-0.546" fill="#F0B428" stroke="#F0B428" stroke-width="0.3" opacity="1.0">LA</text>
<text transform="translate(235.40,717.70) scale(1.0308,1)" x="-2.25" y="0" font-family='"Liberation Sans", sans-serif' font-weight="normal" font-size="24.14" letter-spacing="0.388" fill="#F0B428" stroke="#F0B428" stroke-width="0.3" opacity="1.0">IS</text>
<text transform="translate(278.40,718.00) scale(1.0247,1)" x="-2.00" y="0" font-family='"Liberation Sans", sans-serif' font-weight="normal" font-size="24.29" letter-spacing="0.366" fill="#F0B428" stroke="#F0B428" stroke-width="0.3" opacity="1.0">FSC</text>
<text transform="translate(344.60,722.70) scale(1.0686,1)" x="-1.88" y="0" font-family='"Liberation Sans", sans-serif' font-weight="normal" font-size="23.71" letter-spacing="1.226" fill="#D89028" stroke="#D89028" stroke-width="0.3" opacity="1.0">FD</text>
<text transform="translate(391.70,732.60) scale(0.9981,1)" x="-2.12" y="0" font-family='"Liberation Sans", sans-serif' font-weight="normal" font-size="25.43" letter-spacing="-0.030" fill="#F0B428" stroke="#F0B428" stroke-width="0.3" opacity="1.0">FFC</text>
<text transform="translate(186.50,741.80) scale(0.9849,1)" x="-0.50" y="0" font-family='"Liberation Sans", sans-serif' font-weight="normal" font-size="24.29" letter-spacing="-0.234" fill="#E29828" stroke="#E29828" stroke-width="0.3" opacity="1.0">YLC</text>
<text transform="translate(308.30,757.40) scale(1.0462,1)" x="-2.00" y="0" font-family='"Liberation Sans", sans-serif' font-weight="normal" font-size="24.29" letter-spacing="0.860" fill="#E8A230" stroke="#E8A230" stroke-width="0.3" opacity="1.0">BS</text>
<text transform="translate(212.00,768.00) scale(0.9763,1)" x="-2.00" y="0" font-family='"Liberation Sans", sans-serif' font-weight="normal" font-size="24.57" letter-spacing="-0.303" fill="#F2B828" stroke="#F2B828" stroke-width="0.3" opacity="1.0">PMALTS</text>
<text transform="translate(356.70,767.60) scale(0.9948,1)" x="-2.12" y="0" font-family='"Liberation Sans", sans-serif' font-weight="normal" font-size="25.43" letter-spacing="-0.080" fill="#F0B428" stroke="#F0B428" stroke-width="0.3" opacity="1.0">FPN</text>
<text transform="translate(410.40,767.60) scale(0.9918,1)" x="-2.12" y="0" font-family='"Liberation Sans", sans-serif' font-weight="normal" font-size="25.43" letter-spacing="-0.118" fill="#E8A028" stroke="#E8A028" stroke-width="0.3" opacity="1.0">LRUS</text>
<ellipse cx="321.1" cy="617.8" rx="146.39999999999998" ry="142.79999999999998" fill="none" stroke="#9A9A9A" stroke-width="1.25"/>
<line x1="321.3" y1="460.8" x2="321.3" y2="773.8" stroke="#000" stroke-width="1.4" stroke-dasharray="4.5 3"/>
<line x1="161.3" y1="618.4" x2="481.9" y2="618.4" stroke="#000" stroke-width="1.4" stroke-dasharray="4.5 3"/>
<line x1="175.10" y1="774.5" x2="175.10" y2="779.2" stroke="#333" stroke-width="1.6"/>
<line x1="152.2" y1="760.60" x2="159.0" y2="760.60" stroke="#333" stroke-width="1.6"/>
<line x1="248.20" y1="774.5" x2="248.20" y2="779.2" stroke="#333" stroke-width="1.6"/>
<line x1="152.2" y1="689.50" x2="159.0" y2="689.50" stroke="#333" stroke-width="1.6"/>
<line x1="321.30" y1="774.5" x2="321.30" y2="779.2" stroke="#333" stroke-width="1.6"/>
<line x1="152.2" y1="618.40" x2="159.0" y2="618.40" stroke="#333" stroke-width="1.6"/>
<line x1="394.40" y1="774.5" x2="394.40" y2="779.2" stroke="#333" stroke-width="1.6"/>
<line x1="152.2" y1="547.30" x2="159.0" y2="547.30" stroke="#333" stroke-width="1.6"/>
<line x1="467.50" y1="774.5" x2="467.50" y2="779.2" stroke="#333" stroke-width="1.6"/>
<line x1="152.2" y1="476.20" x2="159.0" y2="476.20" stroke="#333" stroke-width="1.6"/>
<text x="119.55" y="484.70" font-family='"Liberation Sans", sans-serif' font-size="19.8" fill="#2E2848">1.0</text>
<text x="452.27" y="802.10" font-family='"Liberation Sans", sans-serif' font-size="19.8" fill="#2E2848">1.0</text>
<text x="119.68" y="555.80" font-family='"Liberation Sans", sans-serif' font-size="19.8" fill="#2E2848">0.5</text>
<text x="379.61" y="802.10" font-family='"Liberation Sans", sans-serif' font-size="19.8" fill="#2E2848">0.5</text>
<text x="119.55" y="626.90" font-family='"Liberation Sans", sans-serif' font-size="19.8" fill="#2E2848">0.0</text>
<text x="306.45" y="802.10" font-family='"Liberation Sans", sans-serif' font-size="19.8" fill="#2E2848">0.0</text>
<rect x="112.93" y="690.80" width="5.8" height="1.75" fill="#2E2848"/>
<text x="119.68" y="698.00" font-family='"Liberation Sans", sans-serif' font-size="19.8" fill="#2E2848">0.5</text>
<rect x="229.56" y="794.90" width="5.8" height="1.75" fill="#2E2848"/>
<text x="236.31" y="802.10" font-family='"Liberation Sans", sans-serif' font-size="19.8" fill="#2E2848">0.5</text>
<rect x="113.55" y="761.90" width="5.8" height="1.75" fill="#2E2848"/>
<text x="119.55" y="769.10" font-family='"Liberation Sans", sans-serif' font-size="19.8" fill="#2E2848">1.0</text>
<rect x="156.78" y="794.90" width="5.8" height="1.75" fill="#2E2848"/>
<text x="162.78" y="802.10" font-family='"Liberation Sans", sans-serif' font-size="19.8" fill="#2E2848">1.0</text>
<text x="261.73" y="830.20" font-family='"Liberation Sans", sans-serif' font-weight="normal" font-size="22.6" letter-spacing="1.422" fill="#111" >Dim1 (8%)</text>
<text transform="translate(103.80,681.00) rotate(-90)" x="-1.91" y="0" font-family='"Liberation Sans", sans-serif' font-weight="normal" font-size="23" textLength="130.06" lengthAdjust="spacingAndGlyphs" fill="#111">Dim2 (7.2%)</text>
<text x="518.43" y="530.30" font-family='"Liberation Sans", sans-serif' font-weight="normal" font-size="24" textLength="54.14" lengthAdjust="spacingAndGlyphs" fill="#111" >cos2</text>
<rect x="520.2" y="543.2" width="38.6" height="184.5" fill="url(#leg)" stroke="#1A0018" stroke-opacity="0.45" stroke-width="0.9"/>
<line x1="520.6" y1="573.6" x2="527.2" y2="573.6" stroke="#fff" stroke-width="1.9"/>
<line x1="549.0" y1="573.6" x2="557.6" y2="573.6" stroke="#fff" stroke-width="1.9"/>
<text x="569.15" y="582.40" font-family='"Liberation Sans", sans-serif' font-weight="normal" font-size="19.3" letter-spacing="0.538" fill="#151515" >0.5</text>
<line x1="520.6" y1="604.9" x2="527.2" y2="604.9" stroke="#fff" stroke-width="1.9"/>
<line x1="549.0" y1="604.9" x2="557.6" y2="604.9" stroke="#fff" stroke-width="1.9"/>
<text x="569.15" y="613.70" font-family='"Liberation Sans", sans-serif' font-weight="normal" font-size="19.3" letter-spacing="0.413" fill="#151515" >0.4</text>
<line x1="520.6" y1="636.6" x2="527.2" y2="636.6" stroke="#fff" stroke-width="1.9"/>
<line x1="549.0" y1="636.6" x2="557.6" y2="636.6" stroke="#fff" stroke-width="1.9"/>
<text x="569.15" y="645.40" font-family='"Liberation Sans", sans-serif' font-weight="normal" font-size="19.3" letter-spacing="0.538" fill="#151515" >0.3</text>
<line x1="520.6" y1="668.0" x2="527.2" y2="668.0" stroke="#fff" stroke-width="1.9"/>
<line x1="549.0" y1="668.0" x2="557.6" y2="668.0" stroke="#fff" stroke-width="1.9"/>
<text x="569.15" y="676.80" font-family='"Liberation Sans", sans-serif' font-weight="normal" font-size="19.3" letter-spacing="0.600" fill="#151515" >0.2</text>
<line x1="520.6" y1="699.4" x2="527.2" y2="699.4" stroke="#fff" stroke-width="1.9"/>
<line x1="549.0" y1="699.4" x2="557.6" y2="699.4" stroke="#fff" stroke-width="1.9"/>
<text x="569.15" y="708.20" font-family='"Liberation Sans", sans-serif' font-weight="normal" font-size="19.3" letter-spacing="0.600" fill="#151515" >0.1</text>
</svg></body></html>
